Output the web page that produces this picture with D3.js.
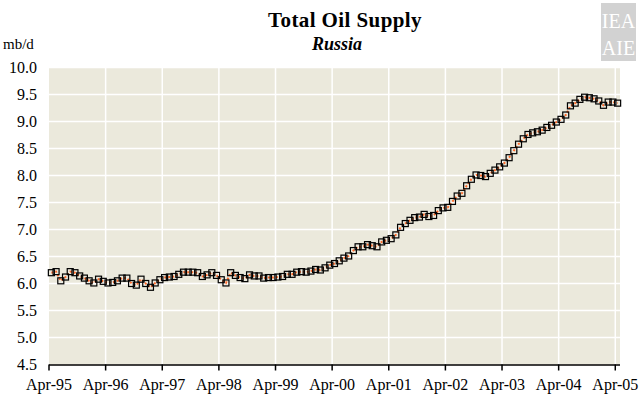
<!DOCTYPE html>
<html>
<head>
<meta charset="utf-8">
<script src="https://cdn.jsdelivr.net/npm/d3@7"></script>
<style>
  body { margin: 0; background: #fff; }
  text { font-family: "Liberation Serif", "DejaVu Serif", serif; }
</style>
</head>
<body>
<div id="chart"></div>
<script>
// monthly supply, Apr-95 .. Apr-05 (mb/d)
var supply = [
  6.20, 6.22, 6.05, 6.12, 6.22, 6.20, 6.14, 6.10, 6.05, 6.01, 6.08, 6.04,
  6.01, 6.02, 6.05, 6.10, 6.10, 6.00, 5.97, 6.08, 6.00, 5.93, 6.01, 6.07,
  6.11, 6.12, 6.13, 6.17, 6.21, 6.21, 6.21, 6.20, 6.13, 6.16, 6.20, 6.15,
  6.07, 6.01, 6.20, 6.15, 6.11, 6.09, 6.16, 6.14, 6.14, 6.10, 6.11, 6.11,
  6.12, 6.13, 6.17, 6.17, 6.21, 6.22, 6.21, 6.23, 6.26, 6.25, 6.29, 6.34,
  6.37, 6.42, 6.47, 6.51, 6.61, 6.68, 6.68, 6.72, 6.70, 6.68, 6.77, 6.80,
  6.83, 6.90, 7.04, 7.11, 7.17, 7.22, 7.23, 7.28, 7.24, 7.26, 7.35, 7.40,
  7.41, 7.52, 7.62, 7.67, 7.81, 7.93, 8.01, 8.00, 7.98, 8.04, 8.10, 8.16,
  8.23, 8.33, 8.46, 8.58, 8.68, 8.76, 8.79, 8.81, 8.84, 8.89, 8.93, 8.99,
  9.04, 9.12, 9.29, 9.34, 9.41, 9.45, 9.44, 9.42, 9.38, 9.30, 9.36, 9.36,
  9.34
];
var xTickLabels = ["Apr-95","Apr-96","Apr-97","Apr-98","Apr-99","Apr-00",
                   "Apr-01","Apr-02","Apr-03","Apr-04","Apr-05"];
var yTicks = [4.5, 5.0, 5.5, 6.0, 6.5, 7.0, 7.5, 8.0, 8.5, 9.0, 9.5, 10.0];

var width = 643, height = 395;
var plot = {left: 49, right: 620, top: 67.5, bottom: 364.5};

var svg = d3.select("#chart")
  .append("svg")
    .attr("width", width)
    .attr("height", height);

var months = d3.range(supply.length);

var x = d3.scaleBand()
  .domain(months)
  .range([plot.left, plot.right])
  .padding(0);

var y = d3.scaleLinear()
  .domain([4.5, 10])
  .range([plot.bottom, plot.top]);

// plot background
svg.append("rect")
  .attr("x", plot.left)
  .attr("y", plot.top)
  .attr("width", plot.right - plot.left)
  .attr("height", plot.bottom - plot.top)
  .attr("fill", "#ebe9dc");

// horizontal grid
svg.selectAll(".hgrid")
  .data(yTicks.slice(1))
  .enter()
  .append("line")
    .attr("class", "hgrid")
    .attr("x1", plot.left)
    .attr("x2", plot.right)
    .attr("y1", function(d){ return y(d); })
    .attr("y2", function(d){ return y(d); })
    .attr("stroke", "#fff")
    .attr("stroke-width", 1.5);

// april positions (start of month band)
var aprils = xTickLabels.map(function(d, i){ return i * 12; });

svg.selectAll(".vgrid")
  .data(aprils.slice(1))
  .enter()
  .append("line")
    .attr("class", "vgrid")
    .attr("x1", function(d){ return x(d); })
    .attr("x2", function(d){ return x(d); })
    .attr("y1", plot.top)
    .attr("y2", plot.bottom)
    .attr("stroke", "#fff")
    .attr("stroke-width", 1.5);

// x axis
var xAxis = d3.axisBottom(x)
  .tickValues(aprils)
  .tickFormat(function(d, i){ return xTickLabels[i]; })
  .tickSizeInner(6)
  .tickSizeOuter(0);

var gx = svg.append("g")
  .attr("transform", "translate(" + (-x.bandwidth() / 2) + "," + plot.bottom + ")")
  .call(xAxis);
gx.select(".domain")
  .attr("d", "M" + (plot.left + x.bandwidth() / 2) + ",0.5H" + (plot.right + x.bandwidth() / 2))
  .attr("stroke", "#000")
  .attr("stroke-width", 1.5);
gx.selectAll(".tick line").attr("stroke", "#000").attr("stroke-width", 1.5);
gx.selectAll(".tick text")
  .attr("y", 14)
  .attr("fill", "#000")
  .style("font-size", "16px")
  .style("font-family", "Liberation Serif, serif");

// y axis labels
var yAxis = d3.axisLeft(y)
  .tickValues(yTicks)
  .tickFormat(d3.format(".1f"))
  .tickSize(0)
  .tickPadding(0);

var gy = svg.append("g")
  .attr("transform", "translate(" + 37 + ",0)")
  .call(yAxis);
gy.select(".domain").remove();
gy.selectAll(".tick text")
  .attr("fill", "#000")
  .style("font-size", "16px")
  .style("font-family", "Liberation Serif, serif");

// line
var line = d3.line()
  .x(function(d, i){ return x(i) + x.bandwidth() / 2; })
  .y(function(d){ return y(d); });

svg.append("path")
  .datum(supply)
  .attr("d", line)
  .attr("fill", "none")
  .attr("stroke", "#ff6a2a")
  .attr("stroke-width", 2)
  .attr("stroke-dasharray", "2,2");

// square markers
var ms = 6;
svg.selectAll(".marker")
  .data(supply)
  .enter()
  .append("rect")
    .attr("class", "marker")
    .attr("x", function(d, i){ return x(i) + x.bandwidth() / 2 - ms / 2; })
    .attr("y", function(d){ return y(d) - ms / 2; })
    .attr("width", ms)
    .attr("height", ms)
    .attr("fill", "none")
    .attr("stroke", "#000")
    .attr("stroke-width", 1.2);

// titles
svg.append("text")
  .attr("x", 345)
  .attr("y", 27)
  .attr("text-anchor", "middle")
  .style("font-size", "21px")
  .style("font-weight", "bold")
  .style("letter-spacing", "0.4px")
  .text("Total Oil Supply");

svg.append("text")
  .attr("x", 337)
  .attr("y", 50)
  .attr("text-anchor", "middle")
  .style("font-size", "18px")
  .style("font-weight", "bold")
  .style("font-style", "italic")
  .text("Russia");

svg.append("text")
  .attr("x", 3)
  .attr("y", 49)
  .style("font-size", "15px")
  .text("mb/d");

// logo block
var logo = svg.append("g").attr("transform", "translate(601,3)");
logo.append("rect")
  .attr("width", 35)
  .attr("height", 58)
  .attr("fill", "#d2d2d2");
logo.append("text")
  .attr("x", 17.5)
  .attr("y", 25)
  .attr("text-anchor", "middle")
  .attr("fill", "#fff")
  .style("font-size", "20px")
  .text("IEA");
logo.append("text")
  .attr("x", 17.5)
  .attr("y", 52)
  .attr("text-anchor", "middle")
  .attr("fill", "#fff")
  .style("font-size", "20px")
  .text("AIE");
</script>
</body>
</html>
